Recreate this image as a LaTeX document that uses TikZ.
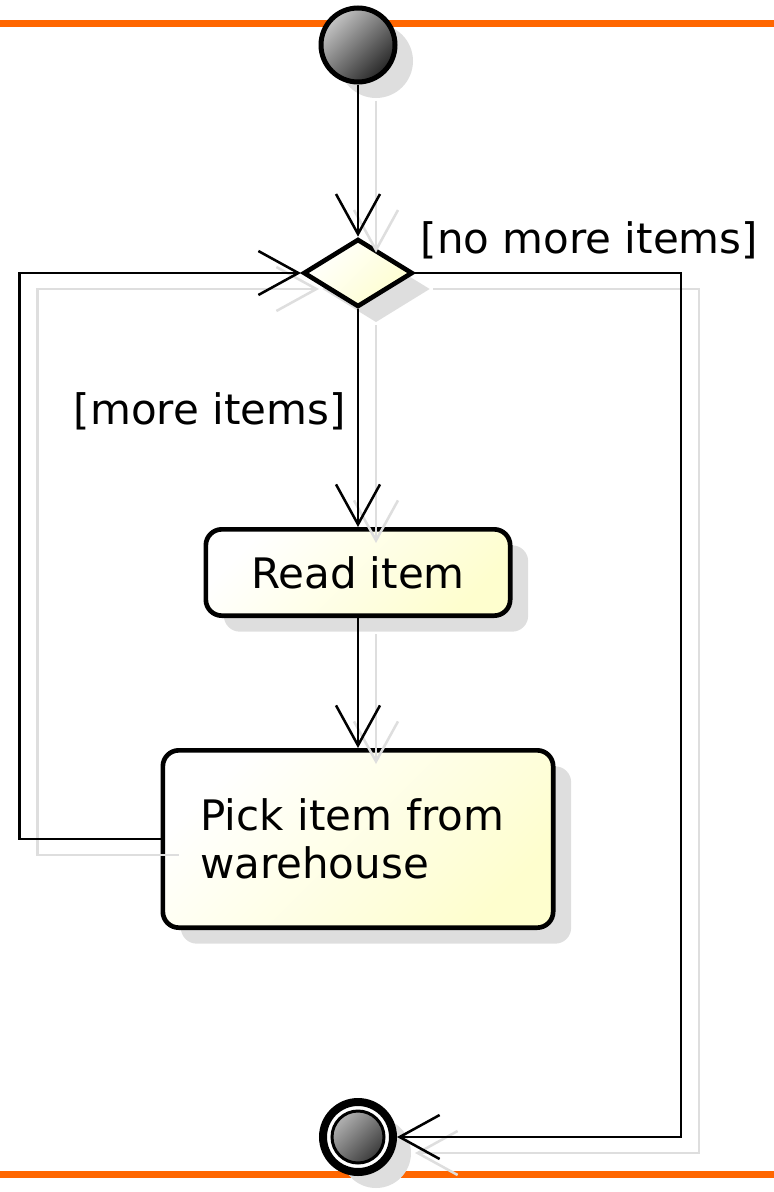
\documentclass[tikz,border=0pt]{standalone}
\usepackage{fontspec}
\newfontfamily\umlfont{DejaVu Sans}
\usetikzlibrary{arrows.meta,shapes.geometric,shadows}
\definecolor{RuleClr}{rgb}{1,0.4,0}
\definecolor{NoteClr}{rgb}{0.996,0.996,0.808}
\definecolor{ShadowClr}{rgb}{0.87,0.87,0.87}

\tikzset{
  umltext/.style={font=\umlfont\fontsize{31.5}{36}\selectfont},
  nodeshadow/.style={drop shadow={shadow xshift=13.5pt,shadow yshift=-12pt,fill=ShadowClr,opacity=1}},
  dotshade/.style={top color=gray!45,bottom color=black!85,shading angle=45},
  startdot/.style={circle,draw,line width=3.75pt,minimum size=55.5pt,inner sep=0pt,nodeshadow,dotshade},
  enddot/.style={circle,draw,line width=6pt,fill=white,minimum size=52.5pt,inner sep=0pt,nodeshadow,
    path picture={\shadedraw[dotshade,draw=black,line width=2.25pt] (path picture bounding box.center) circle (19.5pt);}},
  decision/.style={diamond,draw,line width=3.5pt,minimum width=82pt,minimum height=51pt,inner sep=0pt,nodeshadow,
    left color=white,right color=NoteClr,shading angle=45},
  actbox/.style={rectangle,rounded corners=12pt,draw,line width=3.5pt,nodeshadow,
    left color=white,right color=NoteClr,shading angle=45},
  flow/.style={line width=1.9pt,-{Straight Barb[length=30pt,width=33pt]}},
}

\begin{document}
\begin{tikzpicture}[x=0.75pt,y=-0.75pt,every node/.style={umltext}]
\useasboundingbox (0,0) rectangle (774,1192);

% swimlane rules
\draw[RuleClr,line width=5.25pt] (0,23) -- (774,23);
\draw[RuleClr,line width=5.25pt] (0,1174) -- (774,1174);

% activity nodes
\node[startdot] (start) at (358,45) {};
\node[decision] (dec) at (358,273) {};
\node[actbox,minimum width=228.25pt,minimum height=64.75pt] (read) at (358,572.5) {Read item};
\node[actbox,minimum width=292.75pt,minimum height=133pt,text width=237pt,align=left] (pick) at (358,839) {Pick item from\\warehouse};
\node[enddot] (stop) at (358,1137) {};

% shadows of the flows
\begin{scope}[transform canvas={shift={(13.5pt,-12pt)}}]
\draw[flow,ShadowClr] (start) -- (dec);
\draw[flow,ShadowClr] (dec) -- (read);
\draw[flow,ShadowClr] (read) -- (pick);
\draw[flow,ShadowClr] (pick.west) -- ++(-141,0) |- (dec.west);
\draw[flow,ShadowClr] (dec.east) -- ++(266,0) |- (stop);
\end{scope}

% flows
\draw[flow] (start) -- (dec);
\draw[flow] (dec) -- node[left=5pt,pos=.47] (more) {[more items]} (read);
\draw[flow] (read) -- (pick);
\draw[flow] (pick.west) -- ++(-141,0) |- (dec.west);
\draw[flow] (dec.east) -- node[pos=0,anchor=south west,yshift=6pt] (nomore) {[no more items]} ++(266,0) |- (stop);

\end{tikzpicture}
\end{document}
